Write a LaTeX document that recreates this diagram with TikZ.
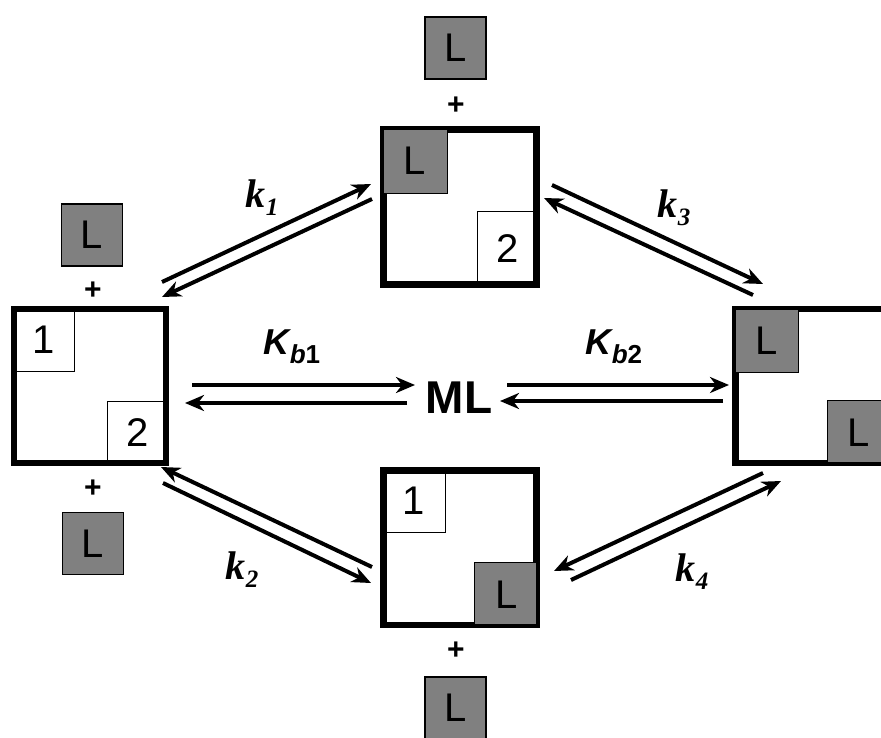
\documentclass[tikz,border=0pt]{standalone}
\usepackage{fontspec}
\setmainfont{Liberation Sans}
\newfontfamily\serifk{Liberation Serif}
\usetikzlibrary{arrows.meta}
\definecolor{lgray}{RGB}{128,128,128}
\newcommand{\klab}[1]{{\serifk\bfseries\itshape\fontsize{40}{40}\selectfont k}{\serifk\bfseries\itshape\fontsize{25}{25}\selectfont\raisebox{-8pt}{#1}}}
\newcommand{\Kblab}[1]{{\bfseries\itshape\fontsize{36}{36}\selectfont K}{\fontsize{26}{26}\selectfont\bfseries\raisebox{-9pt}{{\itshape b}#1}}}
\begin{document}
\begin{tikzpicture}[x=1pt,y=-1pt,
  bigbox/.style={draw, line width=4pt, inner sep=0pt, minimum width=150pt, minimum height=152pt},
  site/.style={draw, line width=1pt, inner sep=0pt, anchor=north west, font=\fontsize{40}{40}\selectfont},
  lsite/.style={site, fill=lgray},
  freeL/.style={draw, line width=1.5pt, fill=lgray, inner sep=0pt, minimum width=61pt, minimum height=62pt, font=\fontsize{40}{40}\selectfont},
  plus/.style={font=\bfseries\fontsize{30}{30}\selectfont, inner sep=0pt},
  rx/.style={line width=4pt, -{Stealth[length=19pt, width=16pt, inset=6pt]}},
  klabel/.style={inner sep=0pt}
]
\useasboundingbox (0,0) rectangle (881,737);
\clip (0,0) rectangle (881,737);

% big boxes
\node[bigbox] (left) at (90,386) {};
\node[bigbox] (top) at (460,207) {};
\node[bigbox] (bot) at (460,547.5) {};
\node[bigbox] (right) at (812,386) {};

% sites: left
\node[site, minimum width=61pt, minimum height=63pt] (l1) at (13,308) {1};
\node[site, minimum width=60pt, minimum height=63pt] (l2) at (107,401) {2};
% sites: top
\node[lsite, minimum width=65pt, minimum height=65pt] (t1) at (382,128) {L};
\node[site, minimum width=61pt, minimum height=75pt] (t2) at (477,211) {2};
% sites: bottom
\node[site, minimum width=63pt, minimum height=63pt] (b1) at (382,469) {1};
\node[lsite, minimum width=64pt, minimum height=64pt] (b2) at (474,562) {L};
% sites: right
\node[lsite, minimum width=64pt, minimum height=64pt] (r1) at (734,308) {L};
\node[lsite, minimum width=63pt, minimum height=64pt] (r2) at (827,400) {L};

% redraw outer frames on top
\draw[line width=4pt] (13,308) rectangle (167,464);
\draw[line width=4pt] (382,128) rectangle (538,286);
\draw[line width=4pt] (382,469) rectangle (538,626);
\draw[line width=4pt] (734,308) rectangle (890,464);

% free ligands and plus signs
\node[freeL] (Ltop) at (455.5,48) {L};
\node[plus] (ptop) at (456,106) {+};
\node[freeL] (Lleft1) at (92,235) {L};
\node[plus] (pleft1) at (93,291) {+};
\node[plus] (pleft2) at (93,489) {+};
\node[freeL] (Lleft2) at (93,543.5) {L};
\node[plus] (pbot) at (456,651) {+};
\node[freeL] (Lbot) at (455.5,708) {L};

% ML
\node[font=\bfseries\fontsize{46}{46}\selectfont, inner sep=0pt] (ML) at (459,398) {ML};

% arrow end coordinates
\coordinate (k1a) at (162,282); \coordinate (k1b) at (371,184);
\coordinate (k1c) at (372,199); \coordinate (k1d) at (162,297);
\coordinate (k3a) at (552,185); \coordinate (k3b) at (763,284);
\coordinate (k3c) at (753,295); \coordinate (k3d) at (544,198);
\coordinate (k2a) at (372,567); \coordinate (k2b) at (161,467);
\coordinate (k2c) at (163,483); \coordinate (k2d) at (371,583);
\coordinate (k4a) at (763,473); \coordinate (k4b) at (554,571);
\coordinate (k4c) at (571,580); \coordinate (k4d) at (781,481);
\coordinate (m1a) at (192,385); \coordinate (m1b) at (415,385);
\coordinate (m1c) at (407,403); \coordinate (m1d) at (185,403);
\coordinate (m2a) at (507,385); \coordinate (m2b) at (729,385);
\coordinate (m2c) at (723,401); \coordinate (m2d) at (500,401);

\draw[rx] (k1a) -- (k1b);
\draw[rx] (k1c) -- (k1d);
\draw[rx] (k3a) -- (k3b);
\draw[rx] (k3c) -- (k3d);
\draw[rx] (k2a) -- (k2b);
\draw[rx] (k2c) -- (k2d);
\draw[rx] (k4a) -- (k4b);
\draw[rx] (k4c) -- (k4d);
\draw[rx] (m1a) -- (m1b);
\draw[rx] (m1c) -- (m1d);
\draw[rx] (m2a) -- (m2b);
\draw[rx] (m2c) -- (m2d);

% labels
\node[klabel] (lk1) at (262,198) {\klab{1}};
\node[klabel] (lk3) at (674,208) {\klab{3}};
\node[klabel] (lk2) at (242,570) {\klab{2}};
\node[klabel] (lk4) at (692,572) {\klab{4}};
\node[klabel] (lKb1) at (292,347) {\Kblab{1}};
\node[klabel] (lKb2) at (614,347) {\Kblab{2}};
\end{tikzpicture}
\end{document}
